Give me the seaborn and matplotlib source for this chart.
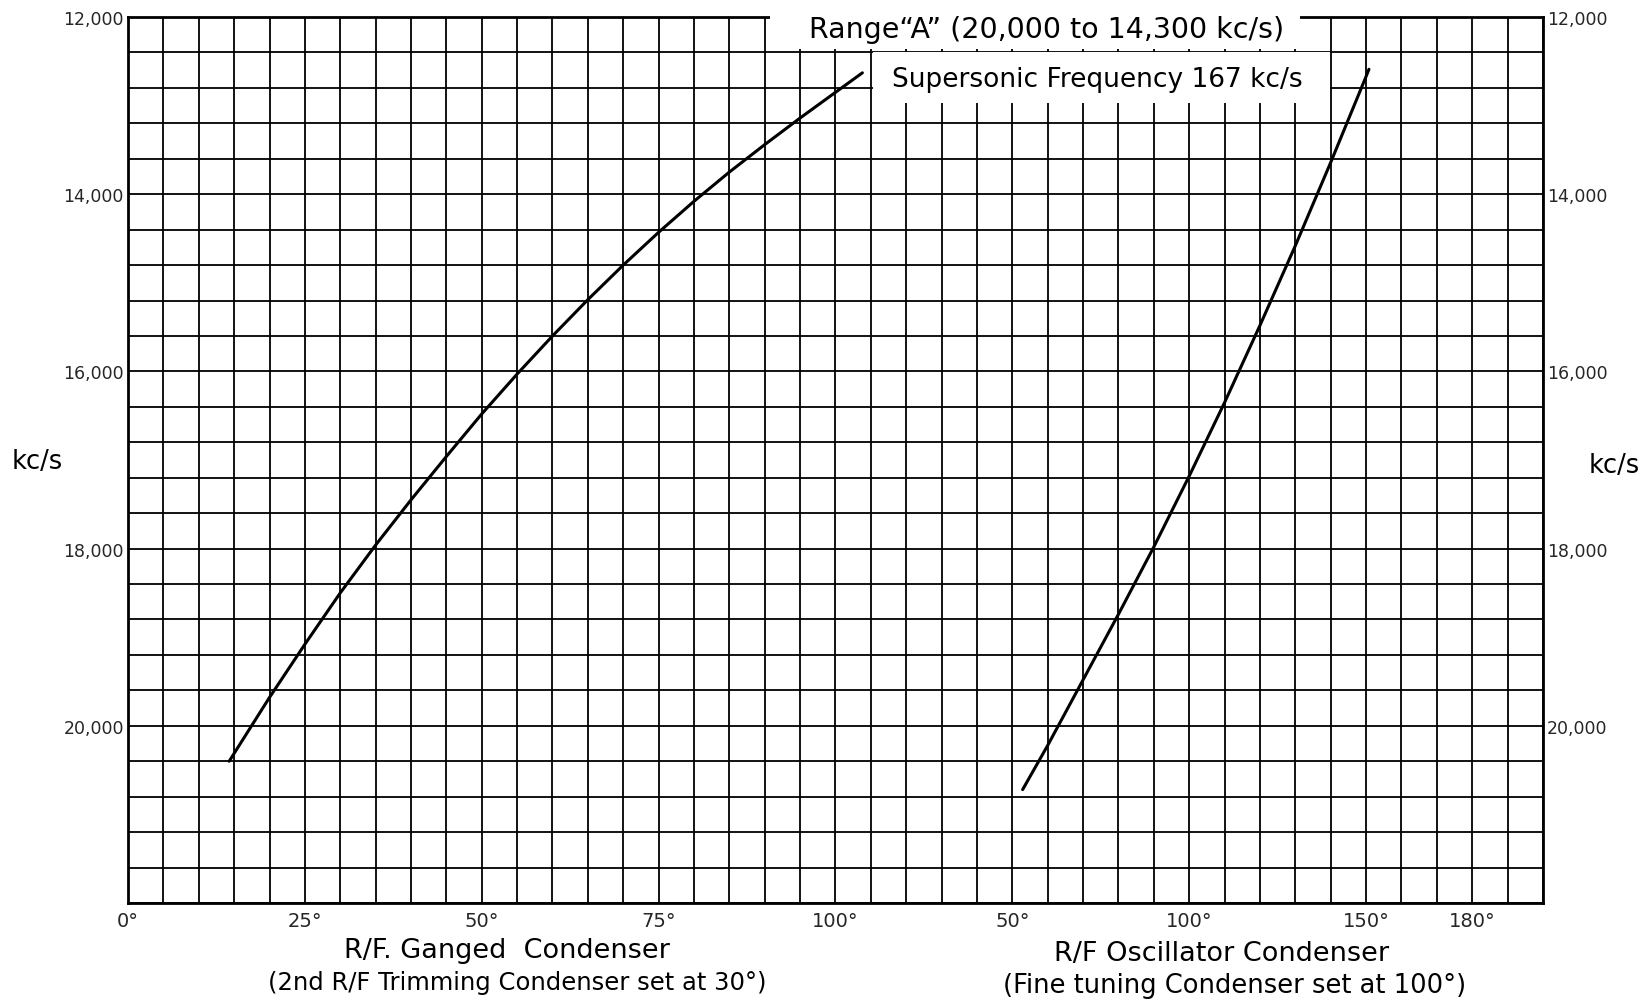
import matplotlib
matplotlib.use("Agg")
import matplotlib.pyplot as plt
import seaborn as sns
import pandas as pd
from matplotlib.ticker import MultipleLocator, FixedLocator, FixedFormatter
from matplotlib.patches import Rectangle

# ---------------- data ----------------
# R/F Ganged Condenser (2nd R/F trimming condenser set at 30 deg) - left scale
ganged_deg = [14.3, 20, 25, 30, 35, 40, 45, 50, 55, 60, 65, 70, 75, 80, 85, 90, 95, 100, 103.8]
ganged_kcs = [20400, 19680, 19080, 18500, 17960, 17450, 16960, 16480, 16030, 15600,
              15190, 14800, 14430, 14080, 13750, 13440, 13140, 12850, 12630]

# R/F Oscillator Condenser (fine tuning condenser set at 100 deg) - right scale
osc_deg = [52.9, 60, 70, 80, 90, 100, 110, 120, 130, 140, 150, 150.8]
osc_kcs = [20720, 20220, 19480, 18740, 17980, 17180, 16350, 15480, 14580, 13640, 12670, 12590]

left_ticks = [0, 25, 50, 75, 100]
left_labels = ["0°", "25°", "50°", "75°", "100°"]
right_ticks = [50, 100, 150, 180]
right_labels = ["50°", "100°", "150°", "180°"]
y_ticks = [12000, 14000, 16000, 18000, 20000]
y_labels = ["12,000", "14,000", "16,000", "18,000", "20,000"]

title_range = "Range\u201cA\u201d (20,000 to 14,300 kc/s)"
title_super = "Supersonic Frequency 167 kc/s"
xlabel_left = ["R/F. Ganged  Condenser", "(2nd R/F Trimming Condenser set at 30°)"]
xlabel_right = ["R/F Oscillator Condenser", "(Fine tuning Condenser set at 100°)"]
ylabel = "kc/s"

# ---------------- style ----------------
sns.set_theme(style="white")
plt.rcParams["font.family"] = ["DejaVu Sans"]
plt.rcParams["text.color"] = "black"

W, H = 1649, 1004
fig = plt.figure(figsize=(W / 100, H / 100), dpi=100)
fig.patch.set_facecolor("white")


def fx(x):
    return x / W


def fy(y):
    return 1 - y / H


L, R, T, B = 128, 1543, 18, 904
ax = fig.add_axes([fx(L), fy(B), (R - L) / W, (B - T) / H])
ax.set_facecolor("white")

ax.set_xlim(0, 200)
ax.set_ylim(22000, 12000)
ax.xaxis.set_major_locator(FixedLocator(left_ticks))
ax.xaxis.set_major_formatter(FixedFormatter(left_labels))
ax.xaxis.set_minor_locator(MultipleLocator(5))
ax.yaxis.set_major_locator(FixedLocator(y_ticks))
ax.yaxis.set_major_formatter(FixedFormatter(y_labels))
ax.yaxis.set_minor_locator(MultipleLocator(400))
ax.grid(which="both", color="black", linewidth=1.3)
for s in ax.spines.values():
    s.set_visible(True)
    s.set_color("black")
    s.set_linewidth(2.0)
ax.tick_params(axis="x", which="both", length=0, pad=6, labelsize=14)
ax.tick_params(axis="y", which="both", length=0, pad=3, labelsize=12.5,
               labelleft=True, labelright=True)

sns.lineplot(x=ganged_deg, y=ganged_kcs, ax=ax, color="black", linewidth=2.2, sort=False)
ax.set_xlabel("")
ax.set_ylabel("")

# right-hand scale (oscillator condenser) on its own x scale
ax2 = ax.twiny()
ax2.set_xlim(-200, 200)
sns.lineplot(x=osc_deg, y=osc_kcs, ax=ax2, color="black", linewidth=2.2, sort=False)
ax2.set_xlabel("")
ax2.set_ylabel("")
ax2.xaxis.set_ticks_position("bottom")
ax2.xaxis.set_label_position("bottom")
ax2.xaxis.set_major_locator(FixedLocator(right_ticks))
ax2.xaxis.set_major_formatter(FixedFormatter(right_labels))
ax2.tick_params(axis="x", length=0, pad=6, labelsize=14)
ax2.grid(False)
for s in ax2.spines.values():
    s.set_visible(False)

# white patches where the lettering interrupts the grid
fig.patches.append(Rectangle((fx(770), fy(50)), (1300 - 770) / W, 40 / H,
                             transform=fig.transFigure, facecolor="white",
                             edgecolor="none", zorder=1))
fig.patches.append(Rectangle((fx(873), fy(104)), (1330 - 873) / W, 51 / H,
                             transform=fig.transFigure, facecolor="white",
                             edgecolor="none", zorder=1))

fig.text(fx(1047), fy(30), title_range, ha="center", va="center", fontsize=20.5, zorder=3)
fig.text(fx(1097), fy(80), title_super, ha="center", va="center", fontsize=19, zorder=3)

fig.text(fx(507), fy(951), xlabel_left[0], ha="center", va="center", fontsize=19.5)
fig.text(fx(517), fy(983), xlabel_left[1], ha="center", va="center", fontsize=17.5)
fig.text(fx(1222), fy(954), xlabel_right[0], ha="center", va="center", fontsize=19.5)
fig.text(fx(1235), fy(986), xlabel_right[1], ha="center", va="center", fontsize=18.5)

fig.text(fx(37), fy(462), ylabel, ha="center", va="center", fontsize=18.5)
fig.text(fx(1614), fy(466), ylabel, ha="center", va="center", fontsize=18.5)

fig.savefig("out.png", dpi=100, facecolor="white")
